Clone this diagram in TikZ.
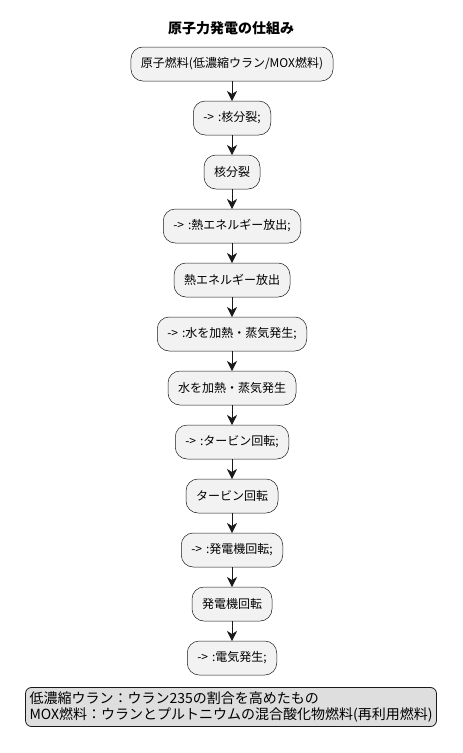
\documentclass[tikz,border=0pt]{standalone}
\usepackage{fontspec}
\setmainfont{Noto Sans CJK JP}
\usetikzlibrary{positioning,arrows.meta}
\newcommand{\arrowtag}{->\hspace{4pt}:}
\begin{document}
\begin{tikzpicture}[x=1pt,y=-1pt]

\tikzset{stepbox/.style={draw=black!90, fill=black!5, line width=0.5pt, outer sep=0pt, rounded corners=12pt, minimum height=34pt, inner xsep=10pt, font=\fontsize{12}{14}\selectfont}}
\tikzset{flow/.style={-{Stealth[length=10pt,width=10pt,inset=3pt]}, line width=0.7pt, draw=black!90}}
\tikzset{notebox/.style={draw=black!90, fill=black!13, line width=0.8pt, rounded corners=6pt, align=left, inner xsep=4pt, inner ysep=4pt, font=\fontsize{14}{16.5}\selectfont}}

\useasboundingbox (0,0) rectangle (463,753);

\node[font=\bfseries\fontsize{14}{16}\selectfont] (title) at (231,28) {原子力発電の仕組み};

\node[stepbox] (fuel) at (232,64) {原子燃料(低濃縮ウラン/MOX燃料)};
\node[stepbox, below=20pt of fuel] (s1) {\arrowtag 核分裂;};
\node[stepbox, below=20pt of s1] (fission) {核分裂};
\node[stepbox, below=20pt of fission] (s2) {\arrowtag 熱エネルギー放出;};
\node[stepbox, below=20pt of s2] (heat) {熱エネルギー放出};
\node[stepbox, below=20pt of heat] (s3) {\arrowtag 水を加熱・蒸気発生;};
\node[stepbox, below=20pt of s3] (steam) {水を加熱・蒸気発生};
\node[stepbox, below=20pt of steam] (s4) {\arrowtag タービン回転;};
\node[stepbox, below=20pt of s4] (turbine) {タービン回転};
\node[stepbox, below=20pt of turbine] (s5) {\arrowtag 発電機回転;};
\node[stepbox, below=20pt of s5] (generator) {発電機回転};
\node[stepbox, below=20pt of generator] (s6) {\arrowtag 電気発生;};

\draw[flow] (fuel) -- (s1);
\draw[flow] (s1) -- (fission);
\draw[flow] (fission) -- (s2);
\draw[flow] (s2) -- (heat);
\draw[flow] (heat) -- (s3);
\draw[flow] (s3) -- (steam);
\draw[flow] (steam) -- (s4);
\draw[flow] (s4) -- (turbine);
\draw[flow] (turbine) -- (s5);
\draw[flow] (s5) -- (generator);
\draw[flow] (generator) -- (s6);

\node[notebox] (legend) at (231,707) {低濃縮ウラン：ウラン235の割合を高めたもの\\MOX燃料：ウランとプルトニウムの混合酸化物燃料(再利用燃料)};

\end{tikzpicture}
\end{document}
